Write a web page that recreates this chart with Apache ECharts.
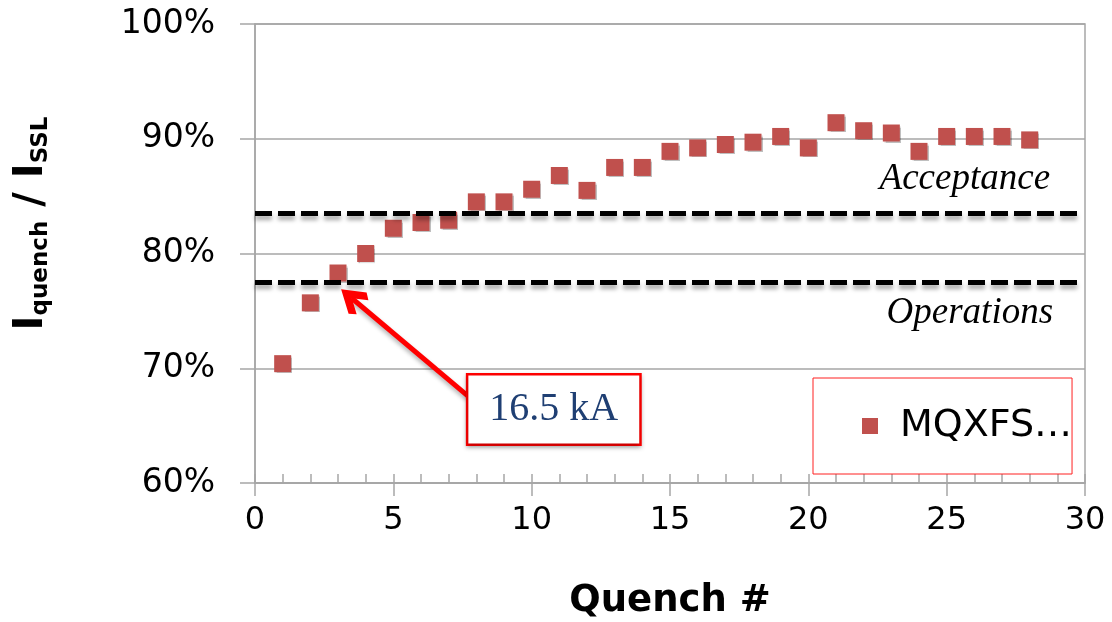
<!DOCTYPE html>
<html>
<head>
<meta charset="utf-8">
<script src="https://cdn.jsdelivr.net/npm/echarts@6/dist/echarts.min.js"></script>
<style>
  html, body { margin: 0; padding: 0; background: #fff; }
  #main { width: 1112px; height: 622px; }
</style>
</head>
<body>
<div id="main"></div>
<script>
// quench number and I_quench / I_SSL (%)
var quenchNo = [1, 2, 3, 4, 5, 6, 7, 8, 9, 10, 11, 12, 13, 14, 15, 16, 17, 18, 19, 20, 21, 22, 23, 24, 25, 26, 27, 28];
var ratio = [70.4, 75.7, 78.3, 80.0, 82.2, 82.7, 82.9, 84.5, 84.5, 85.6, 86.8, 85.5, 87.5, 87.5, 88.9,
             89.2, 89.5, 89.7, 90.2, 89.2, 91.4, 90.7, 90.5, 88.9, 90.2, 90.2, 90.2, 89.9];
var acceptance = 83.5;
var operations = 77.5;
// arrow: from box to quench 3, labelled with current
var arrowFrom = [7.69, 67.6];
var arrowTo = [3.5, 76.1];
var boxAt = [10.8, 66.4];
var boxText = '16.5 kA';

var chart = echarts.init(document.getElementById('main'));
var font = 'DejaVu Sans';
var grey = '#a6a6a6';

chart.setOption({
  animation: false,
  grid: { left: 255, right: 27, top: 24, bottom: 139, outerBoundsMode: 'none', show: true, borderColor: grey, borderWidth: 1.5 },
  legend: {
    left: 813, top: 378,
    padding: [29, 0, 29, 49],
    borderColor: '#ff2020', borderWidth: 1,
    itemWidth: 16, itemHeight: 16,
    textStyle: { fontFamily: font, fontSize: 38, color: '#000', padding: [0, 0, 0, 17] },
    data: [{ name: 'MQXFS…', icon: 'rect' }]
  },
  xAxis: [{
    type: 'value', min: 0, max: 30, interval: 5,
    axisLine: { lineStyle: { color: grey, width: 1.5 } },
    axisTick: { length: 13, lineStyle: { color: grey, width: 1.5 } },
    splitLine: { show: false },
    axisLabel: { fontFamily: font, fontSize: 32, color: '#000', margin: 22 },
    name: 'Quench #', nameLocation: 'middle', nameGap: 100,
    nameTextStyle: { fontFamily: font, fontSize: 37, fontWeight: 'bold', color: '#000' }
  }, {
    type: 'value', min: 0, max: 30, interval: 1, position: 'bottom',
    axisLine: { show: false },
    axisTick: { inside: true, length: 9, lineStyle: { color: grey, width: 1.5 } },
    axisLabel: { show: false },
    splitLine: { show: false }
  }],
  yAxis: {
    type: 'value', min: 60, max: 100, interval: 10,
    axisLine: { show: true, lineStyle: { color: grey, width: 1.5 } },
    axisTick: { show: true, length: 15, lineStyle: { color: grey, width: 1.5 } },
    splitLine: { lineStyle: { color: grey, width: 1.5 } },
    axisLabel: { fontFamily: font, fontSize: 33, color: '#000', margin: 40, formatter: '{value}%' },
    name: '{b|I}{s|quench}{b| / I}{s|SSL}',
    nameLocation: 'middle', nameRotate: 90, nameGap: 202,
    nameTextStyle: {
      padding: [0, 0, 0, 60],
      rich: {
        b: { fontFamily: font, fontSize: 40, fontWeight: 'bold', color: '#000', lineHeight: 42 },
        s: { fontFamily: font, fontSize: 23, fontWeight: 'bold', color: '#000', verticalAlign: 'bottom', lineHeight: 22 }
      }
    }
  },
  series: [{
    name: 'MQXFS…',
    type: 'scatter',
    symbol: 'rect',
    symbolSize: 17,
    itemStyle: { color: '#c0504d', opacity: 1, shadowColor: 'rgba(0,0,0,0.25)', shadowBlur: 1, shadowOffsetX: 1, shadowOffsetY: 1 },
    data: quenchNo.map(function (q, i) { return [q, ratio[i]]; }),
    markLine: {
      silent: true,
      animation: false,
      data: [
        [{ coord: [0, acceptance], symbol: 'none',
           lineStyle: { color: '#000', width: 5, type: [17, 6], shadowColor: 'rgba(0,0,0,0.35)', shadowBlur: 4, shadowOffsetY: 4 },
           label: { show: true, position: 'insideEndTop', formatter: 'Acceptance', distance: [28, 16],
                    fontFamily: 'Liberation Serif', fontStyle: 'italic', fontSize: 37, color: '#000' } },
         { coord: [29.75, acceptance], symbol: 'none' }],
        [{ coord: [0, operations], symbol: 'none',
           lineStyle: { color: '#000', width: 5, type: [17, 6], shadowColor: 'rgba(0,0,0,0.35)', shadowBlur: 4, shadowOffsetY: 4 },
           label: { show: true, position: 'insideEndBottom', formatter: 'Operations', distance: [25, 13],
                    fontFamily: 'Liberation Serif', fontStyle: 'italic', fontSize: 37, color: '#000' } },
         { coord: [29.75, operations], symbol: 'none' }],
        [{ coord: arrowFrom, symbol: 'none',
           lineStyle: { color: '#ff0000', width: 5, type: 'solid', shadowColor: 'rgba(0,0,0,0.3)', shadowBlur: 4, shadowOffsetY: 3 },
           label: { show: false } },
         { coord: arrowTo, symbol: 'path://M0,10 L10,0 L20,10 L16.5,13 L10,6.5 L3.5,13 Z', symbolSize: 28 }]
      ]
    },
    markPoint: {
      silent: true,
      animation: false,
      symbol: 'rect',
      symbolSize: 0,
      data: [{
        coord: boxAt,
        label: {
          show: true, position: 'inside', formatter: boxText,
          fontFamily: 'Liberation Serif', fontSize: 40, color: '#1f3f73',
          backgroundColor: '#fff', borderColor: '#ff0000', borderWidth: 2.5,
          padding: [15, 21, 13, 21],
          shadowColor: 'rgba(0,0,0,0.25)', shadowBlur: 4, shadowOffsetY: 2
        }
      }]
    }
  }]
});
</script>
</body>
</html>
